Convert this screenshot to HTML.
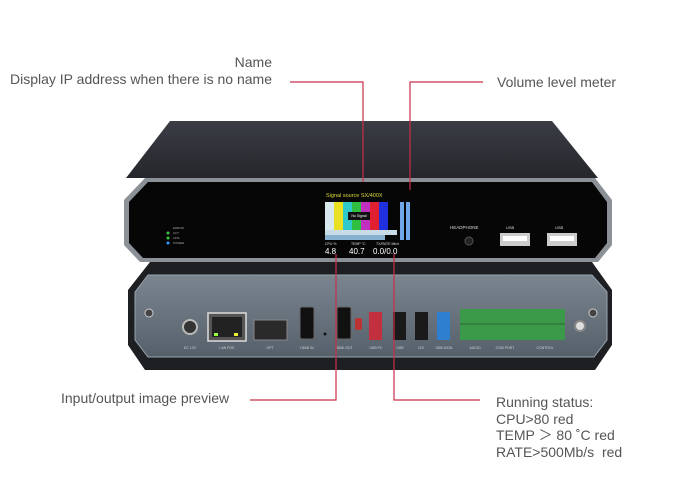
<!DOCTYPE html>
<html><head><meta charset="utf-8"><style>
html,body{margin:0;padding:0;background:#fff;}
body{width:700px;height:500px;overflow:hidden;position:relative;font-family:"Liberation Sans",sans-serif;}
.t{position:absolute;color:#555;font-size:14px;line-height:16.5px;white-space:nowrap;}
</style></head><body>
<svg width="700" height="500" viewBox="0 0 700 500" style="position:absolute;left:0;top:0">
<defs>
<linearGradient id="top" x1="0" y1="0" x2="0" y2="1"><stop offset="0" stop-color="#3a3d44"/><stop offset="1" stop-color="#24262b"/></linearGradient>
<linearGradient id="back" x1="0" y1="0" x2="0" y2="1"><stop offset="0" stop-color="#7a8590"/><stop offset="1" stop-color="#55606b"/></linearGradient>
</defs>
<polygon points="150,262 592,262 612,290 612,345 595,370 145,370 128,345 128,290" fill="#1d1f23"/>
<polygon points="148,275 592,275 607,292 607,340 594,357 148,357 135,340 135,292" fill="url(#back)" stroke="#9aa3ad" stroke-width="1"/>
<circle cx="149" cy="313" r="4" fill="#444" stroke="#ccc"/>
<circle cx="593" cy="313" r="4" fill="#444" stroke="#ccc"/>
<circle cx="190" cy="327" r="7" fill="#333" stroke="#bbb" stroke-width="2"/>
<rect x="208" y="313" width="38" height="28" fill="#555" stroke="#ddd" stroke-width="1.5"/>
<rect x="212" y="317" width="30" height="20" fill="#222"/>
<rect x="214" y="333" width="4" height="3" fill="#9f3"/><rect x="234" y="333" width="4" height="3" fill="#ee3"/>
<rect x="254" y="320" width="33" height="20" fill="#2a2a2a" stroke="#888"/>
<rect x="300" y="307" width="14" height="32" rx="2" fill="#111" stroke="#666"/>
<rect x="337" y="307" width="14" height="32" rx="2" fill="#111" stroke="#666"/>
<circle cx="325" cy="334" r="1.5" fill="#111"/>
<rect x="355" y="318" width="7" height="12" rx="2" fill="#b33"/>
<rect x="369" y="312" width="13" height="28" fill="#c23040"/>
<rect x="393" y="312" width="13" height="28" fill="#1a1a1a"/>
<rect x="415" y="312" width="13" height="28" fill="#1a1a1a"/>
<rect x="437" y="312" width="13" height="28" fill="#2f7fd0"/>
<rect x="460" y="309" width="105" height="31" fill="#3a9a4a"/>
<line x1="460" y1="324" x2="565" y2="324" stroke="#2a6a33"/>
<circle cx="580" cy="326" r="5" fill="#ddd" stroke="#888" stroke-width="2"/>
<g fill="#cfd5db" font-size="3.5" text-anchor="middle">
<text x="190" y="349">DC 12V</text><text x="227" y="349">LAN POE</text><text x="270" y="349">OPT</text><text x="307" y="349">HDMI IN</text><text x="344" y="349">HDMI OUT</text><text x="376" y="349">USB PC</text><text x="400" y="349">USB</text><text x="421" y="349">12V</text><text x="444" y="349">USB DATA</text><text x="475" y="349">AUDIO</text><text x="505" y="349">COM PORT</text><text x="545" y="349">CONTROL</text>
</g>
<polygon points="170,121 552,121 598,178 126,178" fill="url(#top)"/>
<polygon points="145,178 595,178 612,200 612,245 598,262 140,262 124,245 124,200" fill="#8c9198"/>
<polygon points="148,182 592,182 607,202 607,243 595,258 143,258 129,243 129,202" fill="#060607"/>
<circle cx="168" cy="233" r="1.5" fill="#3c3"/><circle cx="168" cy="238" r="1.5" fill="#3c3"/><circle cx="168" cy="243" r="1.5" fill="#39f"/>
<g fill="#aaa" font-size="3"><text x="173" y="229">ERROR</text><text x="173" y="234">ACT</text><text x="173" y="239">LINK</text><text x="173" y="244">POWER</text></g>
<text x="326" y="197" fill="#dd3" font-size="5.5">Signal source SX/400X</text>
<g>
<rect x="325" y="202" width="9" height="28" fill="#d8e8ec"/>
<rect x="334" y="202" width="9" height="28" fill="#e8e020"/>
<rect x="343" y="202" width="9" height="28" fill="#30c8c8"/>
<rect x="352" y="202" width="9" height="28" fill="#30c040"/>
<rect x="361" y="202" width="9" height="28" fill="#c030c0"/>
<rect x="370" y="202" width="9" height="28" fill="#e02030"/>
<rect x="379" y="202" width="9" height="28" fill="#2030e0"/>
<rect x="325" y="230" width="72" height="5" fill="#c8dce8"/>
<rect x="325" y="235" width="60" height="5" fill="#88b0d0"/>
<rect x="348" y="212" width="22" height="8" fill="#111"/>
<text x="359" y="217" fill="#fff" font-size="3.5" text-anchor="middle">No Signal</text>
</g>
<rect x="400" y="202" width="4" height="38" fill="#6fa8e8"/>
<rect x="406" y="202" width="4" height="38" fill="#6fa8e8"/>
<g fill="#ddd"><text x="325" y="245" font-size="3.5">CPU %</text><text x="351" y="245" font-size="3.5">TEMP °C</text><text x="376" y="245" font-size="3.5">TX/RATE Mb/s</text>
<text x="325" y="254" font-size="8" fill="#fff">4.8</text><text x="349" y="254" font-size="8" fill="#fff">40.7</text><text x="373" y="254" font-size="8" fill="#fff">0.0/0.0</text></g>
<text x="450" y="229" fill="#ddd" font-size="4.5">HEADPHONE</text>
<circle cx="469" cy="241" r="4" fill="#222" stroke="#555"/>
<text x="506" y="229" fill="#ddd" font-size="4">USB</text><text x="555" y="229" fill="#ddd" font-size="4">USB</text>
<rect x="500" y="233" width="30" height="13" fill="#ccc"/><rect x="503" y="236" width="24" height="5" fill="#fff"/>
<rect x="547" y="233" width="30" height="13" fill="#ccc"/><rect x="550" y="236" width="24" height="5" fill="#fff"/>
<g stroke="#c8304a" stroke-width="1.2" fill="none">
<polyline points="290,82 363,82 363,182"/>
<polyline points="483,82 410,82 410,190"/>
<polyline points="250,400 336,400 336,254"/>
<polyline points="480,400 394,400 394,254"/>
</g>
</svg>
<div class="t" style="left:8px;top:54px;width:264px;text-align:right">Name<br>Display IP address when there is no name</div>
<div class="t" style="left:497px;top:74px">Volume level meter</div>
<div class="t" style="left:61px;top:390px">Input/output image preview</div>
<div class="t" style="left:496px;top:394px">Running status:<br>CPU&gt;80 red<br>TEMP ＞ 80 ˚C red<br>RATE&gt;500Mb/s&nbsp; red</div>
</body></html>
